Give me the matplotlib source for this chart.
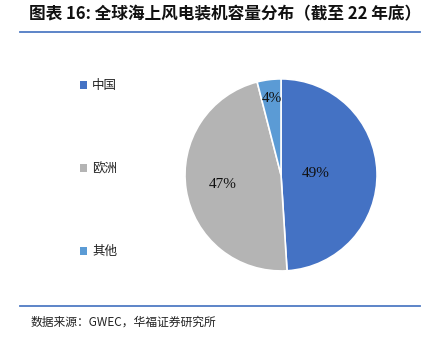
import numpy as np
import matplotlib.pyplot as plt
from matplotlib.patches import Patch
from matplotlib.lines import Line2D

plt.rcParams['font.family'] = ['Noto Sans CJK SC', 'DejaVu Sans']

# data
regions = ['中国', '欧洲', '其他']
shares = [49, 47, 4]
colors = ['#4472C4', '#B4B4B4', '#5B9BD5']
# how far out each percentage label sits (fraction of radius)
label_r = [0.36, 0.62, 0.80]

fig = plt.figure(figsize=(4.32, 3.40), dpi=100)

# title + rules
fig.text(0.522, 0.958, '图表 16: 全球海上风电装机容量分布（截至 22 年底）',
         ha='center', va='center', fontsize=12, fontweight='bold', color='#111111')
fig.add_artist(Line2D([0.046, 0.972], [0.906, 0.906], color='#4F7BC4', lw=1.3))
fig.add_artist(Line2D([0.046, 0.972], [0.100, 0.100], color='#4F7BC4', lw=1.3))
fig.text(0.07, 0.052, '数据来源：GWEC，华福证券研究所', ha='left', va='center',
         fontsize=8.5, color='#222222')

# pie
ax = fig.add_axes([0.426, 0.200, 0.449, 0.571])
wedges, texts, autotexts = ax.pie(
    shares, colors=colors, startangle=90, counterclock=False,
    autopct='%d%%', wedgeprops=dict(edgecolor='white', linewidth=1.2),
    textprops=dict(fontsize=11, family=['Liberation Serif'], color='#111111'))
for w, t, r in zip(wedges, autotexts, label_r):
    ang = np.deg2rad((w.theta1 + w.theta2) / 2)
    t.set_position((r * np.cos(ang), r * np.sin(ang)))
ax.set_xlim(-1.01, 1.01)
ax.set_ylim(-1.01, 1.01)
ax.set_aspect('equal')

# legend
handles = [Patch(facecolor=c, edgecolor='none') for c in colors]
fig.legend(handles, regions, loc='upper left', bbox_to_anchor=(0.16, 0.80),
           frameon=False, fontsize=9, labelspacing=5.6, handlelength=0.55,
           handleheight=0.55, handletextpad=0.4, labelcolor='#222222')

fig.savefig('out.png', dpi=100)
